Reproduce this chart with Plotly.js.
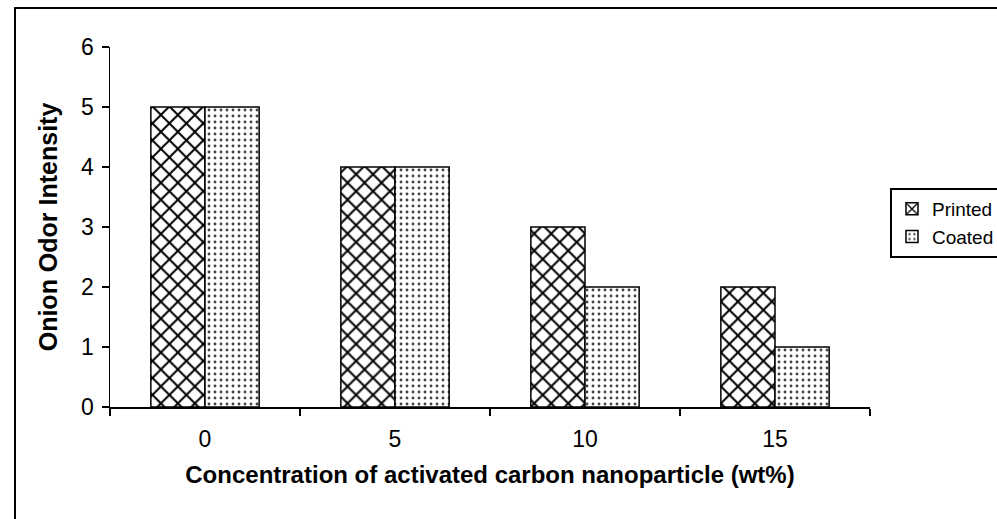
<!DOCTYPE html>
<html>
<head>
<meta charset="utf-8">
<script src="https://cdn.plot.ly/plotly-3.0.1.min.js"></script>
<style>html,body{margin:0;padding:0;background:#fff;}#chart{width:997px;height:519px;}</style>
</head>
<body>
<div id="chart"></div>
<script>
var categories = ["0", "5", "10", "15"];
var printedValues = [5, 4, 3, 2];
var coatedValues = [5, 4, 2, 1];
var seriesNames = ["Printed", "Coated"];
var yTickValues = [0, 1, 2, 3, 4, 5, 6];

var FONT = "Liberation Sans, Arial, sans-serif";

var traces = [
  {
    type: "bar",
    name: seriesNames[0],
    x: categories,
    y: printedValues,
    marker: {
      color: "#ffffff",
      line: {color: "#000000", width: 1.5},
      pattern: {shape: "x", fgcolor: "#000000", bgcolor: "#ffffff", size: 12, solidity: 0.3}
    }
  },
  {
    type: "bar",
    name: seriesNames[1],
    x: categories,
    y: coatedValues,
    marker: {
      color: "#ffffff",
      line: {color: "#000000", width: 1.5},
      pattern: {shape: ".", fgcolor: "#444444", bgcolor: "#ffffff", size: 6, solidity: 0.18}
    }
  }
];

var layout = {
  width: 997,
  height: 519,
  margin: {l: 110, r: 127, t: 47, b: 112, autoexpand: false},
  paper_bgcolor: "#ffffff",
  plot_bgcolor: "#ffffff",
  barmode: "group",
  bargap: 0.43,
  bargroupgap: 0,
  font: {family: FONT, color: "#000000", size: 23},
  xaxis: {
    type: "category",
    tickson: "boundaries",
    ticks: "outside",
    ticklen: 7,
    tickwidth: 1.5,
    tickcolor: "#000000",
    showline: true,
    linecolor: "#000000",
    linewidth: 1.5,
    showgrid: false,
    zeroline: false,
    ticklabelstandoff: 11,
    tickfont: {family: FONT, size: 23, color: "#000000"},
    title: {text: "<b>Concentration of activated carbon nanoparticle (wt%)</b>", font: {family: FONT, size: 24, color: "#000000"}, standoff: 15}
  },
  yaxis: {
    range: [0, 6],
    tickvals: yTickValues,
    ticks: "outside",
    ticklen: 7,
    tickwidth: 1.5,
    tickcolor: "#000000",
    showline: true,
    linecolor: "#000000",
    linewidth: 1.5,
    showgrid: false,
    zeroline: false,
    ticklabelstandoff: 3,
    tickfont: {family: FONT, size: 23, color: "#000000"},
    title: {text: "<b>Onion Odor Intensity</b>", font: {family: FONT, size: 25, color: "#000000"}, standoff: 16}
  },
  showlegend: true,
  legend: {
    x: 1.0263,
    y: 0.6083,
    xanchor: "left",
    yanchor: "top",
    bordercolor: "#000000",
    borderwidth: 2,
    bgcolor: "#ffffff",
    font: {family: FONT, size: 19, color: "#000000"},
    itemwidth: 30
  },
  shapes: [
    {type: "rect", xref: "paper", yref: "paper", x0: -0.125, x1: 1.25, y0: -0.4, y1: 1.1083,
     line: {color: "#000000", width: 2}, fillcolor: "rgba(0,0,0,0)"}
  ]
};

Plotly.newPlot("chart", traces, layout, {displayModeBar: false, staticPlot: true});
</script>
</body>
</html>
